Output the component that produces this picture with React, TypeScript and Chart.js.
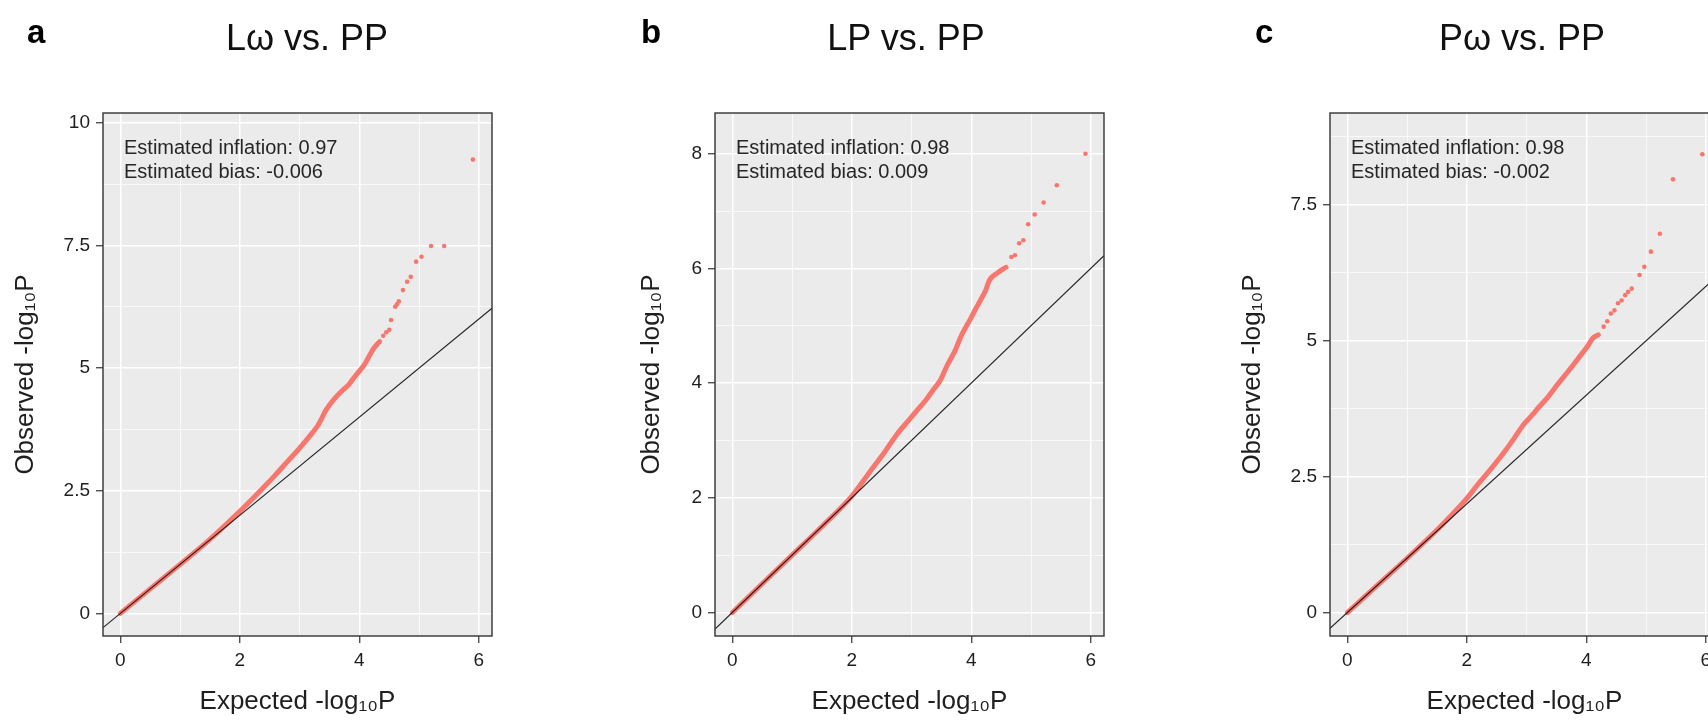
import React, { useEffect, useRef } from "react";
import { Chart, registerables } from "chart.js";

Chart.register(...registerables);

const FONT = '"Liberation Sans", Arial, Helvetica, sans-serif';
const POINT_COLOR = "#F8766D";
const TEXT_COLOR = "#1f1f1f";
const PANEL_BG = "#EBEBEB";

const X_AXIS_TITLE = "Expected -log₁₀P";
const Y_AXIS_TITLE = "Observed -log₁₀P";

// shared x axis
const xLimits = [-0.29, 6.22];
const xMajorTicks = [0, 2, 4, 6];
const xMinorTicks = [1, 3, 5];

// ---------- panel a ----------
const aLabel = "a";
const aTitle = "Lω vs. PP";
const aNotes = ["Estimated inflation: 0.97", "Estimated bias: -0.006"];
const aYLimits = [-0.46, 10.2];
const aYMajorTicks = [0, 2.5, 5, 7.5, 10];
const aYMinorTicks = [1.25, 3.75, 6.25, 8.75];
const aDenseExpected = [0, 0.5, 1.0, 1.5, 1.75, 2.0, 2.2, 2.4, 2.6, 2.8, 3.0, 3.2, 3.3, 3.36, 3.42, 3.5, 3.6, 3.72, 3.82, 3.92, 4.02, 4.1, 4.18, 4.25, 4.34];
const aDenseObserved = [0, 0.5, 1.0, 1.51, 1.79, 2.08, 2.32, 2.57, 2.83, 3.1, 3.37, 3.66, 3.82, 3.95, 4.1, 4.25, 4.4, 4.55, 4.66, 4.82, 4.97, 5.1, 5.28, 5.42, 5.54];
const aTailExpected = [4.4, 4.45, 4.5, 4.53, 4.6, 4.63, 4.66, 4.73, 4.8, 4.86, 4.95, 5.04, 5.2, 5.42, 5.9];
const aTailObserved = [5.66, 5.73, 5.78, 5.98, 6.25, 6.3, 6.36, 6.59, 6.76, 6.86, 7.17, 7.27, 7.49, 7.49, 9.25];

// ---------- panel b ----------
const bLabel = "b";
const bTitle = "LP vs. PP";
const bNotes = ["Estimated inflation: 0.98", "Estimated bias: 0.009"];
const bYLimits = [-0.41, 8.71];
const bYMajorTicks = [0, 2, 4, 6, 8];
const bYMinorTicks = [1, 3, 5, 7];
const bDenseExpected = [0, 0.5, 1.0, 1.5, 2.0, 2.3, 2.55, 2.75, 2.95, 3.12, 3.25, 3.36, 3.48, 3.6, 3.73, 3.82, 3.91, 3.97, 4.06, 4.15, 4.24, 4.3, 4.42, 4.58];
const bDenseObserved = [0, 0.5, 1.0, 1.5, 2.03, 2.45, 2.8, 3.1, 3.35, 3.56, 3.72, 3.88, 4.05, 4.32, 4.57, 4.8, 4.98, 5.09, 5.27, 5.44, 5.62, 5.79, 5.91, 6.02];
const bTailExpected = [4.67, 4.73, 4.8, 4.87, 4.95, 5.06, 5.21, 5.43, 5.91];
const bTailObserved = [6.2, 6.23, 6.44, 6.49, 6.77, 6.94, 7.15, 7.45, 8.0];

// ---------- panel c ----------
const cLabel = "c";
const cTitle = "Pω vs. PP";
const cNotes = ["Estimated inflation: 0.98", "Estimated bias: -0.002"];
const cYLimits = [-0.43, 9.19];
const cYMajorTicks = [0, 2.5, 5, 7.5];
const cYMinorTicks = [1.25, 3.75, 6.25, 8.75];
const cDenseExpected = [0, 0.5, 1.0, 1.5, 1.75, 2.0, 2.2, 2.4, 2.63, 2.8, 2.95, 3.1, 3.19, 3.36, 3.52, 3.69, 3.86, 4.02, 4.11, 4.2];
const cDenseObserved = [0, 0.5, 1.0, 1.52, 1.8, 2.1, 2.38, 2.64, 2.96, 3.22, 3.46, 3.64, 3.76, 3.97, 4.2, 4.43, 4.67, 4.9, 5.05, 5.11];
const cTailExpected = [4.29, 4.35, 4.41, 4.47, 4.53, 4.59, 4.65, 4.7, 4.76, 4.89, 4.97, 5.08, 5.23, 5.45, 5.94];
const cTailObserved = [5.26, 5.36, 5.5, 5.56, 5.69, 5.74, 5.84, 5.9, 5.96, 6.21, 6.36, 6.64, 6.97, 7.97, 8.43];

// ---------- layout (positions only) ----------
const CANVAS_H = 720;
const AREA_TOP = 113;
const AREA_W = 389;
const X_AXIS_H = 84;
const RIGHT_PAD = 14;

type PanelSpec = {
  label: string;
  title: string;
  notes: string[];
  yLimits: number[];
  yMajor: number[];
  yMinor: number[];
  denseX: number[];
  denseY: number[];
  tailX: number[];
  tailY: number[];
  canvasLeft: number;
  yAxisW: number;
  labelLeft: number;
  titleCenter: number;
};

const panels: PanelSpec[] = [
  {
    label: aLabel, title: aTitle, notes: aNotes, yLimits: aYLimits, yMajor: aYMajorTicks, yMinor: aYMinorTicks,
    denseX: aDenseExpected, denseY: aDenseObserved, tailX: aTailExpected, tailY: aTailObserved,
    canvasLeft: 10, yAxisW: 93, labelLeft: 27, titleCenter: 307,
  },
  {
    label: bLabel, title: bTitle, notes: bNotes, yLimits: bYLimits, yMajor: bYMajorTicks, yMinor: bYMinorTicks,
    denseX: bDenseExpected, denseY: bDenseObserved, tailX: bTailExpected, tailY: bTailObserved,
    canvasLeft: 636, yAxisW: 79, labelLeft: 641, titleCenter: 906,
  },
  {
    label: cLabel, title: cTitle, notes: cNotes, yLimits: cYLimits, yMajor: cYMajorTicks, yMinor: cYMinorTicks,
    denseX: cDenseExpected, denseY: cDenseObserved, tailX: cTailExpected, tailY: cTailObserved,
    canvasLeft: 1237, yAxisW: 93, labelLeft: 1255, titleCenter: 1522,
  },
];

const has = (arr: number[], v: number) => arr.some((t) => Math.abs(t - v) < 1e-9);

function QQPanel({ spec }: { spec: PanelSpec }) {
  const ref = useRef<HTMLCanvasElement | null>(null);
  const canvasW = spec.yAxisW + AREA_W + RIGHT_PAD;

  useEffect(() => {
    const canvas = ref.current;
    if (!canvas) return;

    const framePlugin = {
      id: "qqFrame",
      beforeDraw(chart: any) {
        const { ctx, chartArea } = chart;
        ctx.save();
        ctx.fillStyle = PANEL_BG;
        ctx.fillRect(chartArea.left, chartArea.top, chartArea.right - chartArea.left, chartArea.bottom - chartArea.top);
        ctx.restore();
      },
      afterDraw(chart: any) {
        const { ctx, chartArea } = chart;
        ctx.save();
        ctx.strokeStyle = "#333333";
        ctx.lineWidth = 1.4;
        ctx.strokeRect(chartArea.left, chartArea.top, chartArea.right - chartArea.left, chartArea.bottom - chartArea.top);
        ctx.font = `20px ${FONT}`;
        ctx.fillStyle = "#262626";
        ctx.textAlign = "left";
        ctx.textBaseline = "alphabetic";
        spec.notes.forEach((t, i) => {
          ctx.fillText(t, chartArea.left + 21, chartArea.top + 40.5 + i * 24.7);
        });
        ctx.restore();
      },
    };

    const gridFor = (major: number[]) => ({
      color: "#FFFFFF",
      lineWidth: (c: any) => (c.tick && has(major, c.tick.value) ? 1.5 : 0.7),
      tickColor: (c: any) => (c.tick && has(major, c.tick.value) ? "#333333" : "rgba(0,0,0,0)"),
      tickLength: 7,
      tickWidth: 1.2,
      drawOnChartArea: true,
      drawTicks: true,
    });

    const chart = new Chart(canvas, {
      type: "scatter",
      data: {
        datasets: [
          {
            type: "line",
            label: "y = x",
            data: [
              { x: xLimits[0], y: xLimits[0] },
              { x: xLimits[1], y: xLimits[1] },
            ],
            borderColor: "rgba(15,15,15,0.9)",
            borderWidth: 1.2,
            pointRadius: 0,
            tension: 0,
            order: 0,
          },
          {
            type: "scatter",
            label: "tail",
            data: spec.tailX.map((x, i) => ({ x, y: spec.tailY[i] })),
            backgroundColor: POINT_COLOR,
            borderWidth: 0,
            pointRadius: 2.3,
            order: 1,
          },
          {
            type: "line",
            label: "dense",
            data: spec.denseX.map((x, i) => ({ x, y: spec.denseY[i] })),
            borderColor: POINT_COLOR,
            borderWidth: 5,
            pointRadius: 0,
            borderCapStyle: "round",
            borderJoinStyle: "round",
            cubicInterpolationMode: "monotone",
            order: 2,
          },
        ] as any,
      },
      options: {
        responsive: false,
        maintainAspectRatio: false,
        animation: false,
        devicePixelRatio: 1,
        events: [],
        layout: { padding: { top: AREA_TOP, right: RIGHT_PAD, bottom: 0, left: 0 } },
        plugins: {
          legend: { display: false },
          tooltip: { enabled: false },
          title: { display: false },
        },
        scales: {
          x: {
            type: "linear",
            position: "bottom",
            min: xLimits[0],
            max: xLimits[1],
            afterBuildTicks: (s: any) => {
              s.ticks = [...xMajorTicks, ...xMinorTicks].sort((p, q) => p - q).map((v) => ({ value: v }));
            },
            afterFit: (s: any) => {
              s.height = X_AXIS_H;
            },
            ticks: {
              autoSkip: false,
              maxRotation: 0,
              padding: 6,
              color: TEXT_COLOR,
              font: { family: FONT, size: 19 },
              callback: (v: any) => (has(xMajorTicks, Number(v)) ? String(v) : ""),
            },
            grid: gridFor(xMajorTicks),
            border: { display: false },
            title: {
              display: true,
              text: X_AXIS_TITLE,
              color: TEXT_COLOR,
              font: { family: FONT, size: 26 },
              padding: { top: 0, bottom: 3 },
            },
          },
          y: {
            type: "linear",
            position: "left",
            min: spec.yLimits[0],
            max: spec.yLimits[1],
            afterBuildTicks: (s: any) => {
              s.ticks = [...spec.yMajor, ...spec.yMinor].sort((p, q) => p - q).map((v) => ({ value: v }));
            },
            afterFit: (s: any) => {
              s.width = spec.yAxisW;
            },
            ticks: {
              autoSkip: false,
              padding: 6,
              color: TEXT_COLOR,
              font: { family: FONT, size: 19 },
              callback: (v: any) => (has(spec.yMajor, Number(v)) ? String(v) : ""),
            },
            grid: gridFor(spec.yMajor),
            border: { display: false },
            title: {
              display: true,
              text: Y_AXIS_TITLE,
              color: TEXT_COLOR,
              font: { family: FONT, size: 26 },
              padding: { top: 0, bottom: 0 },
            },
          },
        },
      } as any,
      plugins: [framePlugin],
    });

    return () => chart.destroy();
  }, []);

  return (
    <>
      <canvas
        ref={ref}
        width={canvasW}
        height={CANVAS_H}
        style={{ position: "absolute", left: spec.canvasLeft, top: 0, width: canvasW, height: CANVAS_H }}
      />
      <div
        style={{
          position: "absolute",
          left: spec.labelLeft,
          top: 43 - 0.8465 * 33,
          fontFamily: FONT,
          fontWeight: "bold",
          fontSize: 33,
          lineHeight: "33px",
          color: "#000",
          whiteSpace: "nowrap",
        }}
      >
        {spec.label}
      </div>
      <div
        style={{
          position: "absolute",
          left: spec.titleCenter,
          top: 50 - 0.8465 * 36,
          transform: "translateX(-50%)",
          fontFamily: FONT,
          fontSize: 36,
          lineHeight: "36px",
          color: "#111",
          whiteSpace: "nowrap",
        }}
      >
        {spec.title}
      </div>
    </>
  );
}

export default function App() {
  return (
    <div
      style={{
        position: "absolute",
        left: 0,
        top: 0,
        width: 1708,
        height: 720,
        overflow: "hidden",
        background: "#FFFFFF",
      }}
    >
      {panels.map((p) => (
        <QQPanel key={p.label} spec={p} />
      ))}
    </div>
  );
}
